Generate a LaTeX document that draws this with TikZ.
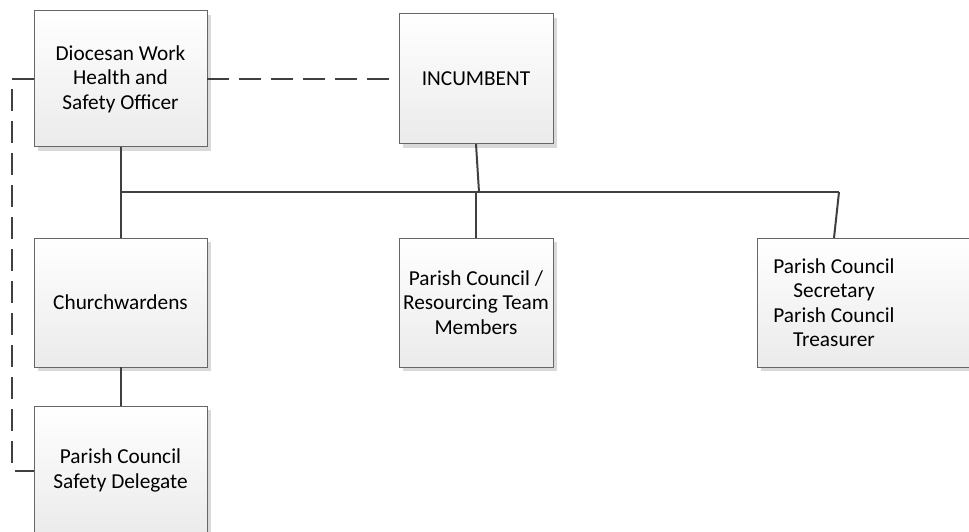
\documentclass[tikz,border=0pt]{standalone}
\usepackage{fontspec}
\setmainfont{Carlito}
\usetikzlibrary{shadows}
\begin{document}
\begin{tikzpicture}[x=1pt,y=-1pt,
    box/.style={draw=black!60, line width=1pt, top color=white, bottom color=black!8,
      inner sep=0pt, outer sep=0pt, align=center, anchor=north west,
      font=\fontsize{21.3}{24.5}\selectfont,
      drop shadow={shadow xshift=4pt, shadow yshift=-4pt, fill=black!15, opacity=1}},
    boxtext/.style={align=center, font=\fontsize{21.3}{24.5}\selectfont},
    link/.style={draw=black!75, line width=2pt},
    dashlink/.style={link, dash pattern=on 22pt off 10pt}]
  \clip (0,0) rectangle (969,532);
  % boxes
  \node[box, minimum width=173, minimum height=136] (dwhs) at (34,11) {Diocesan Work\\Health and\\Safety Officer};
  \node[box, minimum width=154, minimum height=130] (inc) at (399,14) {INCUMBENT};
  \node[box, minimum width=173, minimum height=129] (church) at (34,238) {Churchwardens};
  \node[box, minimum width=154, minimum height=129] (council) at (399,238) {Parish Council /\\Resourcing Team\\Members};
  \node[box, minimum width=240, minimum height=129] (sec) at (757,238) {};
  \node[boxtext] (sectext) at (834,302.5) {Parish Council\\Secretary\\Parish Council\\Treasurer};
  \node[box, minimum width=173, minimum height=129] (delegate) at (34,406) {Parish Council\\Safety Delegate};
  % bus
  \coordinate (busl) at (dwhs.south |- 0,192);
  \coordinate (incbus) at (479,192);
  \coordinate (busr) at (839,192);
  \draw[link] (busl) -- (busr);
  \draw[link] (dwhs.south) -- (church.north);
  \draw[link] (inc.south) -- (incbus);
  \draw[link] (council.north |- busl) -- (council.north);
  \draw[link] (busr) -- ([xshift=77]sec.north west);
  \draw[link] (church.south) -- (delegate.north);
  % safety lines
  \draw[dashlink] (dwhs.east) -- (inc.west);
  \draw[dashlink] (dwhs.west) -- ++(-22,0) |- (delegate.west);
\end{tikzpicture}
\end{document}
